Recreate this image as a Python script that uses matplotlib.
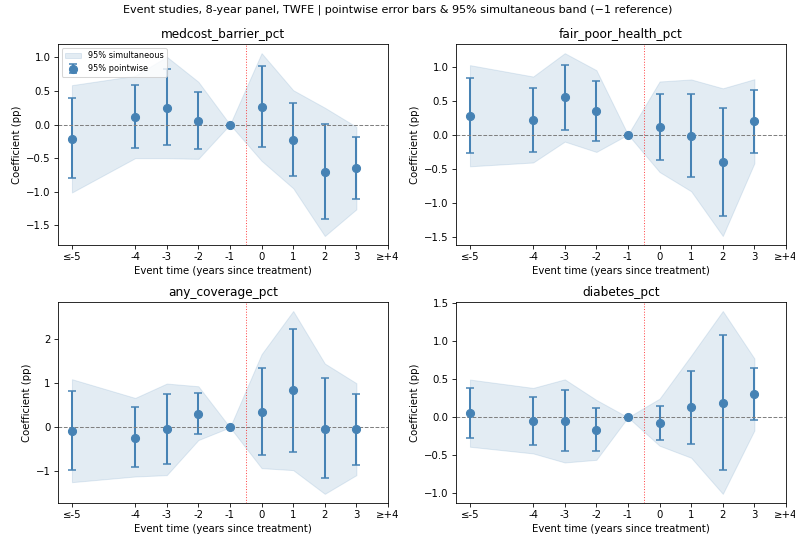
import numpy as np
import matplotlib
matplotlib.use("Agg")
import matplotlib.pyplot as plt

# event time positions (-6 stands for "<=-5", 4 for ">=+4")
event_x = [-6, -4, -3, -2, -1, 0, 1, 2, 3]
tick_pos = [-6, -4, -3, -2, -1, 0, 1, 2, 3, 4]
tick_labels = ["≤-5", "-4", "-3", "-2", "-1", "0", "1", "2", "3", "≥+4"]

outcomes = ["medcost_barrier_pct", "fair_poor_health_pct", "any_coverage_pct", "diabetes_pct"]

coef = {
    "medcost_barrier_pct": [-0.21, 0.11, 0.25, 0.055, 0.0, 0.26, -0.23, -0.71, -0.65],
    "fair_poor_health_pct": [0.275, 0.22, 0.55, 0.35, 0.0, 0.11, -0.02, -0.40, 0.20],
    "any_coverage_pct": [-0.076, -0.236, -0.046, 0.31, 0.0, 0.36, 0.84, -0.038, -0.046],
    "diabetes_pct": [0.057, -0.053, -0.044, -0.167, 0.0, -0.07, 0.132, 0.19, 0.304],
}
pw_lo = {
    "medcost_barrier_pct": [-0.80, -0.35, -0.31, -0.37, 0.0, -0.34, -0.77, -1.41, -1.11],
    "fair_poor_health_pct": [-0.27, -0.25, 0.074, -0.093, 0.0, -0.37, -0.62, -1.20, -0.265],
    "any_coverage_pct": [-0.97, -0.91, -0.84, -0.144, 0.0, -0.62, -0.55, -1.16, -0.85],
    "diabetes_pct": [-0.273, -0.361, -0.449, -0.449, 0.0, -0.295, -0.356, -0.695, -0.035],
}
pw_hi = {
    "medcost_barrier_pct": [0.387, 0.58, 0.818, 0.486, 0.0, 0.863, 0.322, 0.01, -0.18],
    "fair_poor_health_pct": [0.828, 0.686, 1.025, 0.789, 0.0, 0.598, 0.593, 0.392, 0.657],
    "any_coverage_pct": [0.83, 0.464, 0.753, 0.79, 0.0, 1.36, 2.24, 1.12, 0.768],
    "diabetes_pct": [0.387, 0.268, 0.356, 0.128, 0.0, 0.154, 0.616, 1.082, 0.651],
}
band_lo = {
    "medcost_barrier_pct": [-1.01, -0.50, -0.50, -0.51, 0.0, -0.54, -0.947, -1.657, -1.26],
    "fair_poor_health_pct": [-0.466, -0.41, -0.103, -0.255, 0.0, -0.55, -0.833, -1.49, -0.42],
    "any_coverage_pct": [-1.247, -1.118, -1.087, -0.289, 0.0, -0.928, -0.973, -1.513, -1.087],
    "diabetes_pct": [-0.387, -0.475, -0.594, -0.559, 0.0, -0.374, -0.532, -1.007, -0.172],
}
band_hi = {
    "medcost_barrier_pct": [0.585, 0.724, 1.007, 0.635, 0.0, 1.06, 0.51, 0.25, -0.035],
    "fair_poor_health_pct": [1.02, 0.853, 1.196, 0.946, 0.0, 0.78, 0.81, 0.68, 0.814],
    "any_coverage_pct": [1.095, 0.669, 0.996, 0.935, 0.0, 1.665, 2.646, 1.452, 1.004],
    "diabetes_pct": [0.497, 0.387, 0.50, 0.229, 0.0, 0.246, 0.814, 1.399, 0.774],
}

col = "steelblue"
DPI = 73

fig, axes = plt.subplots(2, 2, figsize=(795 / DPI, 537 / DPI), dpi=DPI)
fig.subplots_adjust(left=0.0726, right=0.9887, top=0.918, bottom=0.0633, wspace=0.205, hspace=0.282)
fig.suptitle("Event studies, 8-year panel, TWFE | pointwise error bars & 95% simultaneous band (\u22121 reference)",
             fontsize=11, y=0.992)

for i, (ax, name) in enumerate(zip(axes.flat, outcomes)):
    x = np.array(event_x)
    b = np.array(coef[name])
    lo = np.array(pw_lo[name])
    hi = np.array(pw_hi[name])
    ax.fill_between(x, band_lo[name], band_hi[name], color=col, alpha=0.15, linewidth=1,
                    label="95% simultaneous")
    ax.errorbar(x, b, yerr=[b - lo, hi - b], fmt="o", color=col, ms=8, capsize=3.5,
                elinewidth=2, capthick=1.5, label="95% pointwise")
    ax.axhline(0, color="gray", ls="--", lw=1)
    ax.axvline(-0.5, color="red", ls=":", lw=1, alpha=0.7)
    ax.set_xticks(tick_pos)
    ax.set_xticklabels(tick_labels)
    ax.set_xlim(-6.45, 4.0)
    ax.set_title(name, fontsize=12)
    ax.set_xlabel("Event time (years since treatment)")
    ax.set_ylabel("Coefficient (pp)")
    if i == 0:
        ax.legend(loc="upper left", fontsize=8)

fig.savefig("out.png", dpi=DPI)
